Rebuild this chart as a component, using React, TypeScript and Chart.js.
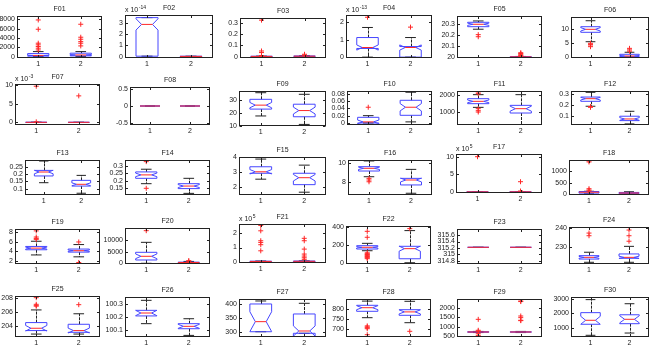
import React, { useEffect, useRef } from "react";
import { Chart, registerables } from "chart.js";

Chart.register(...registerables);

// ---------- data ----------
const titles = ["F01","F02","F03","F04","F05","F06","F07","F08","F09","F10","F11","F12","F13","F14","F15","F16","F17","F18","F19","F20","F21","F22","F23","F24","F25","F26","F27","F28","F29","F30"];
const exponents = ["","-14","","-13","","","-3","","","","","","","","","","5","","","","5","","","","","","","","",""];

const yMin = [-300,-0.11,-0.012,-0.05,19.994,-0.25,-0.7,-0.55,10,-0.0055,222,0.015,0.057,0.105,1.43,6.66,-0.28,-30,1.28,-300,-0.09,-14,314.7,221.2,202.38,100.05,283.4,661.5,465,340];
const yMax = [8700,3.68,0.342,2.43,20.375,14.4,10.35,0.55,36.5,0.0874,2260,0.325,0.296,0.34,4.0,10.28,10.77,1472,8.7,15150,2.66,407,315.79,240.7,208.24,100.35,417.6,851.5,2476,3165];
const yTicks = [
  [0,2000,4000,6000,8000],[0,1,2,3],[0,0.1,0.2,0.3],[0,1,2],[20,20.1,20.2,20.3],[0,5,10],
  [0,5,10],[-0.5,0,0.5],[10,20,30],[0,0.02,0.04,0.06,0.08],[1000,2000],[0.1,0.2,0.3],
  [0.1,0.15,0.2,0.25],[0.15,0.2,0.25,0.3],[2,3,4],[8,10],[0,5,10],[0,500,1000],
  [2,4,6,8],[0,5000,10000],[0,1,2],[0,200,400],[314.8,315,315.2,315.4,315.6],[230,240],
  [204,206,208],[100.1,100.2,100.3],[300,350,400],[700,750,800],[500,1000,1500,2000],[1000,2000,3000]
];
const categories = [1, 2];

// series 1 (category "1")
const s1Low   = [0,0.05,0,0,20.255,5.57,0,0,17.6,0,1280,0.186,0.141,0.181,2.5,8.55,0,20,3.2,0,0,133,315.22,222.1,202.8,100.15,302,758,700,460];
const s1Q1    = [100,0.05,0,0.5,20.278,8.93,0,0,22.8,0,1500,0.231,0.187,0.217,2.9,9.14,0.02,50,4.3,1420,0.01,152,315.22,223.8,203.3,100.208,302,790,715,1240];
const s1Med   = [250,2.85,0.002,0.555,20.30,10.0,0.02,0,25.8,0.003,1640,0.255,0.214,0.24,3.0,9.42,0.04,90,4.65,3000,0.02,171,315.22,224.7,203.63,100.23,337.6,808,730,1520];
const s1Q3    = [650,3.45,0.004,1.13,20.318,10.93,0.05,0,30.2,0.0155,1800,0.27,0.225,0.26,3.34,9.59,0.06,120,5.0,4720,0.04,189,315.22,225.6,204.44,100.25,400,820,745,2060];
const s1High  = [1070,3.45,0.005,1.71,20.33,13.07,0.05,0,35.2,0.02,2040,0.313,0.289,0.278,3.86,10.18,0.08,130,6.1,9000,0.05,215,315.22,227.4,206.25,100.325,410.6,841,760,2980];
const s1Notch = [60,0.5,0,0.15,0.01,0.6,0,0,2.0,0.005,80,0.012,0.012,0.012,0.15,0.12,0,0,0.2,1000,0,8,0,0.5,0.4,0.02,35,10,0,280];
const s1Outliers = [
  [7850,5860,2870,2520,2160,1800,1430],[],[0.323,0.05,0.036,0.01],[2.3],[20.206,20.187],[5.0,4.64,4.4,3.8],
  [9.75,0.15],[],[],[0.043],[2200,2100,1200,1080,1000],[0.183,0.176],
  [],[0.329,0.15],[],[8.38,8.21,8.03],[10.0],[1440,1390,240,185,142],
  [8.3,7.0,6.7,6.5],[14000],[2.56,2.18,1.48,1.36,1.2,0.77],[348,282,110,100,92,85,77,70,62,55,45],[],[237.5,236.1],
  [208.0,207.05,206.85,206.8],[],[],[717,712,708,703,673],[1400,820,770,640,550],[]
];

// series 2 (category "2")
const s2Low   = [0,0.02,0,0,20.0,0,0,0,11.2,0.003,240,0.025,0.069,0.116,1.62,6.84,0,10,2.8,0,0,0,315.22,222.1,202.8,100.062,296.5,733,700,620];
const s2Q1    = [150,0.02,0.002,0,20.002,0.2,0,0,17,0.021,940,0.055,0.118,0.148,2.13,7.7,0.02,30,3.8,250,0.01,44,315.22,224.2,203.05,100.112,296.5,770,720,1280];
const s2Med   = [350,0.03,0.004,0.555,20.004,0.46,0.02,0,21.7,0.043,1200,0.07,0.13,0.165,2.6,8.21,0.04,55,4.1,350,0.03,156,315.22,224.7,203.3,100.13,304.6,787,730,1590];
const s2Q3    = [730,0.05,0.006,0.61,20.006,1.07,0.04,0,26.5,0.062,1400,0.095,0.157,0.181,2.9,8.38,0.06,80,4.45,500,0.05,182,315.22,226.5,204.2,100.15,364.7,798,740,1910];
const s2High  = [1070,0.05,0.008,1.13,20.008,1.8,0.04,0,34,0.084,2040,0.14,0.191,0.217,3.45,9.31,0.08,110,5.4,800,0.06,356,315.22,230.5,205.7,100.187,402.4,840,760,2690];
const s2Notch = [100,0,0,0.15,0,0.2,0,0,2.6,0.01,150,0.012,0.01,0.01,0.22,0.2,0,0,0.15,0,0,28,0,0.6,0.35,0.015,18,10,0,250];
const s2Outliers = [
  [6930,4150,3720,3210,2870,2290],[],[0.021,0.012],[1.73],[20.042,20.035,20.028,20.02,20.014,20.01],[3.2,2.65,2.2],
  [7.15],[],[],[],[],[],
  [],[],[],[],[2.92,0.28],[],
  [5.95,1.6],[1100,950],[1.65,1.48,0.89,0.54,0.4,0.28,0.17],[378],[],[239.1,236.1,233.2],
  [207.0],[],[],[690],[2370,2340,1576,1490,1350,1330],[]
];

// ---------- layout (plot rectangles: left, top, right, bottom) ----------
const panelRects = [
  [17,16,102,58],[125,15,213,58],[240,18,326,58],[346,15,432,58],[457,16,542,58],[571,17,649,58],
  [15,84,100,125],[130,87,210,125],[239,91,326,126],[347,91,432,125],[457,91,542,125],[571,91,649,125],
  [25,160,100,195],[125,160,210,195],[239,157,326,195],[348,160,432,195],[456,154,542,193],[569,160,649,195],
  [15,229,100,264],[125,228,210,264],[239,224,326,263],[346,226,431,264],[457,229,542,264],[569,227,649,264],
  [15,296,100,337],[125,297,210,337],[239,299,326,337],[346,299,431,337],[457,299,542,337],[571,297,649,337]
];

const FONT_FAMILY = '"Liberation Sans", Arial, sans-serif';
const BLUE = "rgb(70,70,255)";
const RED = "rgb(255,40,40)";
const TEXT = "#222";

function line(ctx: CanvasRenderingContext2D, x1: number, y1: number, x2: number, y2: number) {
  ctx.beginPath();
  ctx.moveTo(x1, y1);
  ctx.lineTo(x2, y2);
  ctx.stroke();
}

function drawBox(ctx: CanvasRenderingContext2D, xs: any, ys: any, pos: number,
  lo: number, q1: number, med: number, q3: number, hi: number, n: number) {
  const half = 0.25;
  const xl = xs.getPixelForValue(pos - half);
  const xr = xs.getPixelForValue(pos + half);
  const xc = Math.round(xs.getPixelForValue(pos)) + 0.5;
  const cl = xs.getPixelForValue(pos - half / 2);
  const cr = xs.getPixelForValue(pos + half / 2);
  const P = (v: number) => ys.getPixelForValue(v);
  ctx.lineWidth = 1;
  // whiskers
  ctx.strokeStyle = "#222";
  ctx.setLineDash([3, 1]);
  if (hi > q3) line(ctx, xc, P(q3), xc, P(hi));
  if (lo < q1) line(ctx, xc, P(q1), xc, P(lo));
  ctx.setLineDash([]);
  line(ctx, cl, P(hi), cr, P(hi));
  line(ctx, cl, P(lo), cr, P(lo));
  // box
  ctx.strokeStyle = BLUE;
  const d = (xr - xl) * 0.25;
  ctx.beginPath();
  if (n > 0) {
    ctx.moveTo(xl, P(q1));
    ctx.lineTo(xl, P(med - n));
    ctx.lineTo(xl + d, P(med));
    ctx.lineTo(xl, P(med + n));
    ctx.lineTo(xl, P(q3));
    ctx.lineTo(xr, P(q3));
    ctx.lineTo(xr, P(med + n));
    ctx.lineTo(xr - d, P(med));
    ctx.lineTo(xr, P(med - n));
    ctx.lineTo(xr, P(q1));
    ctx.closePath();
  } else {
    ctx.rect(xl, P(q3), xr - xl, P(q1) - P(q3));
  }
  ctx.stroke();
  // median
  ctx.strokeStyle = RED;
  if (n > 0) line(ctx, xl + d, P(med), xr - d, P(med));
  else line(ctx, xl, P(med), xr, P(med));
}

function makePlugin(i: number) {
  return {
    id: "boxes" + i,
    beforeDatasetsDraw(chart: any) {
      const { ctx, chartArea: a, scales } = chart;
      ctx.save();
      ctx.beginPath();
      ctx.rect(a.left, a.top, a.right - a.left, a.bottom - a.top);
      ctx.clip();
      drawBox(ctx, scales.x, scales.y, categories[0], s1Low[i], s1Q1[i], s1Med[i], s1Q3[i], s1High[i], s1Notch[i]);
      drawBox(ctx, scales.x, scales.y, categories[1], s2Low[i], s2Q1[i], s2Med[i], s2Q3[i], s2High[i], s2Notch[i]);
      ctx.restore();
    },
    afterDraw(chart: any) {
      const { ctx, chartArea: a, scales } = chart;
      ctx.save();
      ctx.strokeStyle = "#222";
      ctx.lineWidth = 1;
      const L = Math.round(a.left) + 0.5, R = Math.round(a.right) - 0.5;
      const T = Math.round(a.top) + 0.5, B = Math.round(a.bottom) - 0.5;
      ctx.strokeRect(L, T, R - L, B - T);
      const tl = 2.5;
      for (const t of scales.y.ticks) {
        const py = Math.round(scales.y.getPixelForValue(t.value)) + 0.5;
        line(ctx, L, py, L + tl, py);
        line(ctx, R - tl, py, R, py);
      }
      for (const c of categories) {
        const px = Math.round(scales.x.getPixelForValue(c)) + 0.5;
        line(ctx, px, B, px, B - tl);
        line(ctx, px, T, px, T + tl);
      }
      ctx.fillStyle = TEXT;
      ctx.font = `7px ${FONT_FAMILY}`;
      ctx.textAlign = "center";
      ctx.textBaseline = "middle";
      ctx.fillText(titles[i], (a.left + a.right) / 2, a.top - 7);
      if (exponents[i]) {
        ctx.textAlign = "left";
        ctx.textBaseline = "alphabetic";
        const base = "x 10";
        ctx.fillText(base, a.left, a.top - 3);
        const w = ctx.measureText(base).width;
        ctx.font = `5px ${FONT_FAMILY}`;
        ctx.fillText(exponents[i], a.left + w + 0.5, a.top - 6.5);
      }
      ctx.restore();
    },
  };
}

const PAD_L = 34, PAD_T = 20, PAD_R = 4, PAD_B = 13;

function Panel({ i }: { i: number }) {
  const ref = useRef<HTMLCanvasElement>(null);
  const [L, T, R, B] = panelRects[i];
  const w = R - L + PAD_L + PAD_R;
  const h = B - T + PAD_T + PAD_B;
  useEffect(() => {
    if (!ref.current) return;
    const font = { family: FONT_FAMILY, size: 7 };
    const chart = new Chart(ref.current, {
      type: "scatter",
      data: {
        datasets: [
          { data: s1Outliers[i].map((v) => ({ x: categories[0], y: v })) },
          { data: s2Outliers[i].map((v) => ({ x: categories[1], y: v })) },
        ],
      },
      options: {
        responsive: false,
        animation: false,
        devicePixelRatio: 1,
        layout: { padding: { left: 0, top: PAD_T, right: PAD_R, bottom: 0 } },
        elements: {
          point: { pointStyle: "cross", radius: 2.5, borderWidth: 1, borderColor: RED, backgroundColor: RED, hoverRadius: 2.5 },
        },
        plugins: { legend: { display: false }, tooltip: { enabled: false }, title: { display: false } },
        scales: {
          x: {
            type: "linear",
            min: 0.5,
            max: 2.5,
            afterBuildTicks: (s: any) => { s.ticks = categories.map((v) => ({ value: v })); },
            afterFit: (s: any) => { s.height = PAD_B; },
            grid: { display: false, drawTicks: false },
            border: { display: false },
            ticks: { font, color: TEXT, padding: 2, autoSkip: false, maxRotation: 0, callback: (v: any) => String(v) },
          },
          y: {
            type: "linear",
            min: yMin[i],
            max: yMax[i],
            afterBuildTicks: (s: any) => { s.ticks = yTicks[i].map((v) => ({ value: v })); },
            afterFit: (s: any) => { s.width = PAD_L; },
            grid: { display: false, drawTicks: false },
            border: { display: false },
            ticks: { font, color: TEXT, padding: 2, autoSkip: false, callback: (v: any) => String(v) },
          },
        },
      } as any,
      plugins: [makePlugin(i)],
    });
    return () => chart.destroy();
  }, [i]);
  return (
    <canvas
      ref={ref}
      width={w}
      height={h}
      style={{ position: "absolute", left: L - PAD_L, top: T - PAD_T, width: w, height: h }}
    />
  );
}

export default function App() {
  return (
    <div style={{ position: "absolute", left: 0, top: 0, width: 654, height: 348, background: "#fff", overflow: "hidden" }}>
      {titles.map((_, i) => (
        <Panel key={i} i={i} />
      ))}
    </div>
  );
}
